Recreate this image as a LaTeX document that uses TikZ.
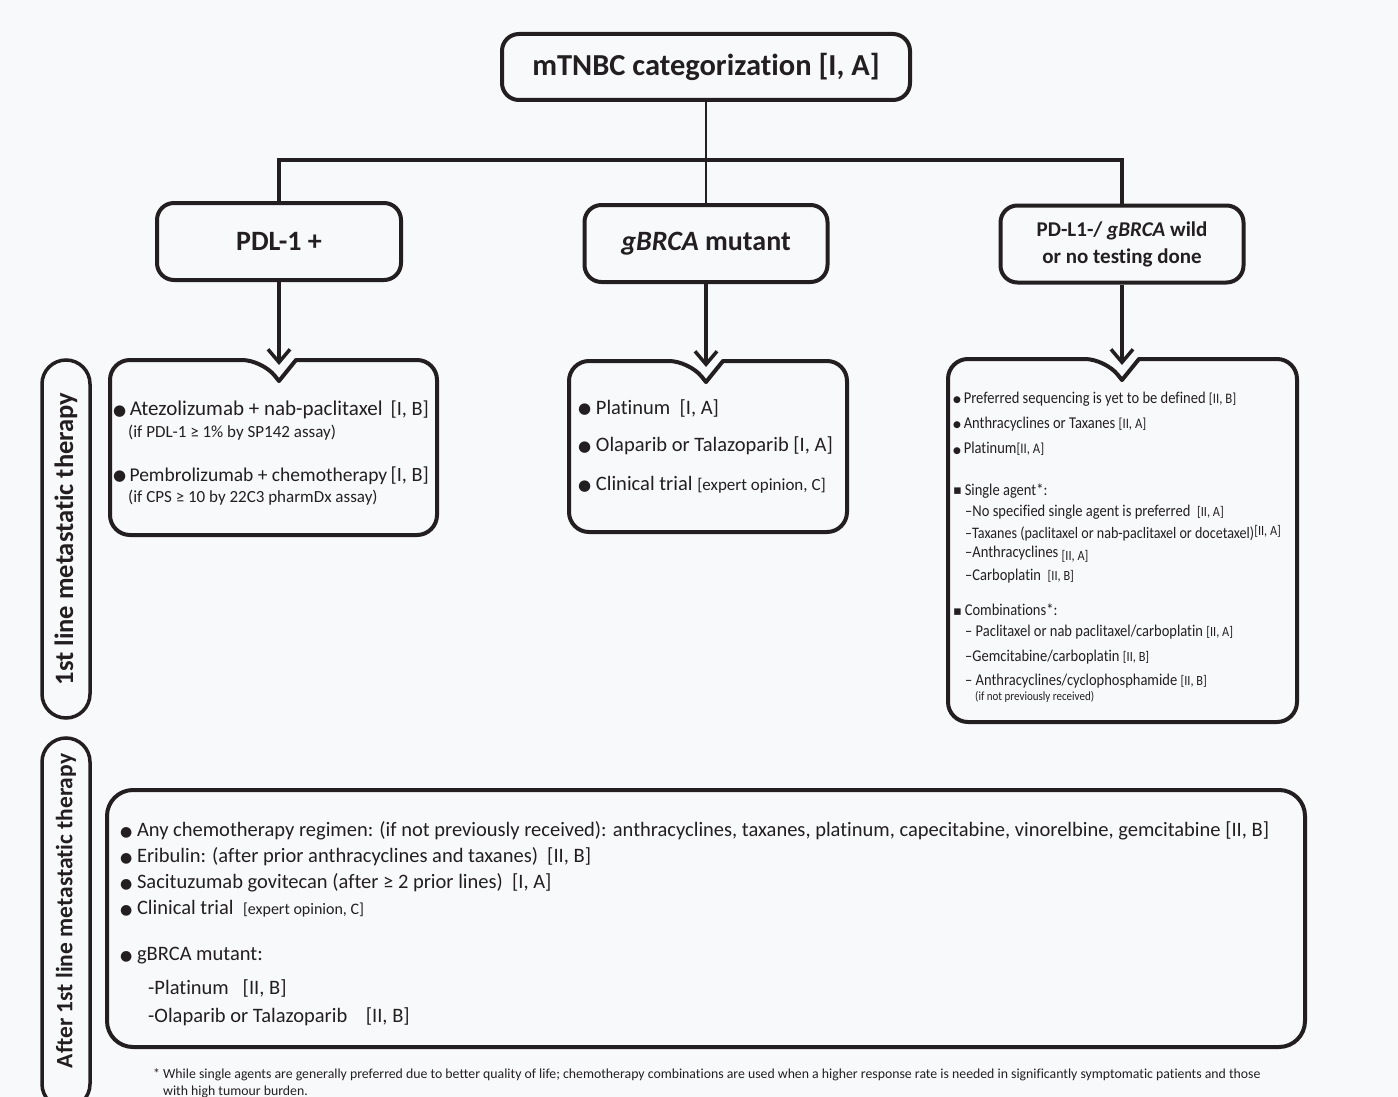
\documentclass[tikz,border=0pt]{standalone}
\usepackage{fontspec}
\setmainfont{Carlito}[Ligatures=NoCommon]
\newfontfamily\dejavu{DejaVu Sans}
\newfontfamily\condfont{Carlito}[FakeStretch=0.88,Ligatures=NoCommon]
\usetikzlibrary{arrows.meta}
\definecolor{ink}{RGB}{35,31,32}
\definecolor{bg}{RGB}{248,249,251}
\newcommand\fs[1]{\fontsize{#1}{#1}\selectfont}
\newcommand\bul[2]{\raisebox{#2}{\dejavu\fs{#1}●}}
\newcommand\sqb{\raisebox{0.5pt}{\dejavu\fs{13}▪}}
\newcommand\notchbox[5]{%
  \draw[draw=ink, line width=4pt, line join=round]
    ({#5+17},#2) [rounded corners=20pt] -- (#3,#2) -- (#3,#4) -- (#1,#4) -- (#1,#2) -- ({#5-17},#2)
    [sharp corners] -- (#5,{#2+21}) -- cycle;}
\begin{document}
\begin{tikzpicture}[x=1pt,y=-1pt,
  boxline/.style={draw=ink, line width=4pt, line join=round},
  catbox/.style={boxline, rounded corners=17pt, minimum width=#1, minimum height=77pt,
     inner sep=0pt, font=\bfseries\fs{28}, text=ink, align=center},
  conn/.style={draw=ink, line width=4pt},
  arr/.style={draw=ink, line width=4pt, -{Straight Barb[length=13pt,width=22pt,line width=3.5pt]}},
  txt/.style={anchor=west, inner sep=0pt, text=ink},
  sidelabel/.style={anchor=center, inner sep=0pt, text=ink, rotate=90, font=\bfseries\fs{25}},
  side/.style={draw=ink, line width=3.5pt, rounded corners=24pt},
]
\fill[bg] (0,0) rectangle (1398,1097);
\useasboundingbox (0,0) rectangle (1398,1097);
\clip (0,0) rectangle (1398,1097);

% top and category boxes
\node[boxline, rounded corners=17pt, minimum width=408pt, minimum height=66pt, inner sep=0pt,
      font=\bfseries\fs{30.5}, text=ink] (top) at (706,67) {mTNBC categorization [I, A]};
\node[catbox=244pt] (pdl) at (279,241.5) {PDL-1 +};
\node[catbox=243pt] (gb) at (706,243.5) {\textit{gBRCA} mutant};
\node[catbox=243pt, font=\bfseries\fontsize{21}{27}\selectfont] (wild) at (1122,244)
   {PD-L1-/ \textit{gBRCA} wild\\or no testing done};

\coordinate (hub) at (706,160);
\draw[draw=ink, line width=2pt] (top.south) -- (gb.north);
\draw[conn] (pdl.north) -- (pdl.north |- hub) -- (wild.north |- hub) -- (wild.north);

% notched boxes
\notchbox{110}{360}{437}{535}{279}
\notchbox{569}{361}{847}{532}{706}
\notchbox{948}{359}{1297}{722}{1122}

\coordinate (tA) at (279,365);
\coordinate (tB) at (706,367);
\coordinate (tC) at (1122,365);
\draw[arr] (pdl.south) -- (tA);
\draw[arr] (gb.south) -- (tB);
\draw[arr] (wild.south) -- (tC);

% PDL-1 box text
\node[txt, font=\fs{21}] (a1) at (113,410) {\bul{15}{0.3pt}\,Atezolizumab + nab-paclitaxel};
\node[txt, anchor=east, font=\fs{20.3}] (a1r) at (429,410) {[I, B]};
\node[txt, font=\fs{17}] (a2) at (128,433) {(if PDL-1 ≥ 1\% by SP142 assay)};
\node[txt, font=\fs{19.5}] (a3) at (113,476) {\bul{15}{0.3pt}\,Pembrolizumab + chemotherapy};
\node[txt, anchor=east, font=\fs{20.3}] (a3r) at (429,476) {[I, B]};
\node[txt, font=\fs{17}] (a4) at (128,498) {(if CPS ≥ 10 by 22C3 pharmDx assay)};

% gBRCA box text
\node[txt, font=\fs{20.5}] (b1) at (578,408) {\bul{15}{0.3pt}\ Platinum\ \ [I, A]};
\node[txt, font=\fs{20.5}] (b2) at (578,446) {\bul{15}{0.3pt}\ Olaparib or Talazoparib [I, A]};
\node[txt, font=\fs{20.5}] (b3) at (578,485) {\bul{15}{0.3pt}\ Clinical trial {\fs{17}[expert opinion, C]}};

% right box text
\begin{scope}[every node/.append style={font=\condfont\fs{16.5}}]
\node[txt] (c1) at (953,399) {\bul{9}{0.5pt}\,Preferred sequencing is yet to be defined {\fs{14.5}[II, B]}};
\node[txt] (c2) at (953,424) {\bul{9}{0.5pt}\,Anthracyclines or Taxanes {\fs{14.5}[II, A]}};
\node[txt] (c3) at (953,449) {\bul{9}{0.5pt}\,Platinum{\fs{14.5}[II, A]}};
\node[txt] (c4) at (953,491) {\sqb\,Single agent*:};
\node[txt] (c5) at (965,512) {–No specified single agent is preferred\ \ {\fs{14}[II, A]}};
\node[txt, font=\condfont\fs{16}] (c6) at (965,533) {–Taxanes (paclitaxel or nab-paclitaxel or docetaxel)\raisebox{3pt}{\fs{14}[II, A]}};
\node[txt] (c7) at (965,554) {–Anthracyclines \raisebox{-3pt}{\fs{14}[II, A]}};
\node[txt] (c8) at (965,576) {–Carboplatin\ \ {\fs{14}[II, B]}};
\node[txt] (c9) at (953,610) {\sqb\,Combinations*:};
\node[txt] (c10) at (965,632) {– Paclitaxel or nab paclitaxel/carboplatin {\fs{14}[II, A]}};
\node[txt] (c11) at (965,657) {–Gemcitabine/carboplatin {\fs{14}[II, B]}};
\node[txt] (c12) at (965,681) {– Anthracyclines/cyclophosphamide {\fs{14}[II, B]}};
\node[txt, font=\condfont\fs{12.5}] (c13) at (975,697) {(if not previously received)};
\end{scope}

% side labels
\node[side, rotate=90, minimum width=358pt, minimum height=48pt, inner sep=0pt,
      text=ink, font=\bfseries\fs{26.5}] (s1) at (66,539) {1st line metastatic therapy};
\draw[side] (42,738) rectangle (90,1108);
\node[sidelabel, font=\bfseries\fs{23.5}] (s2) at (66,911) {After 1st line metastatic therapy};

% bottom box
\draw[boxline, rounded corners=26pt] (107,790) rectangle (1305,1047);
\begin{scope}[every node/.append style={font=\fs{20.5}}]
\node[txt] (d1) at (120,831) {\bul{14}{0.3pt}\ Any chemotherapy regimen: (if not previously received): anthracyclines, taxanes, platinum, capecitabine, vinorelbine, gemcitabine [II, B]};
\node[txt] (d2) at (120,857) {\bul{14}{0.3pt}\ Eribulin: (after prior anthracyclines and taxanes)\ \ [II, B]};
\node[txt] (d3) at (120,883) {\bul{14}{0.3pt}\ Sacituzumab govitecan (after ≥ 2 prior lines)\ \ [I, A]};
\node[txt] (d4) at (120,909) {\bul{14}{0.3pt}\ Clinical trial\ \ {\fs{16}[expert opinion, C]}};
\node[txt] (d5) at (120,956) {\bul{14}{0.3pt}\ gBRCA mutant:};
\node[txt] (d6) at (148,988) {-Platinum\ \ \ [II, B]};
\node[txt] (d7) at (148,1017) {-Olaparib or Talazoparib\ \ \ \ [II, B]};
\end{scope}

% footnote
\node[txt, font=\fs{13.8}] (f1) at (153,1075) {* While single agents are generally preferred due to better quality of life; chemotherapy combinations are used when a higher response rate is needed in significantly symptomatic patients and those};
\node[txt, font=\fs{13.8}] (f2) at (163,1092) {with high tumour burden.};
\end{tikzpicture}
\end{document}
